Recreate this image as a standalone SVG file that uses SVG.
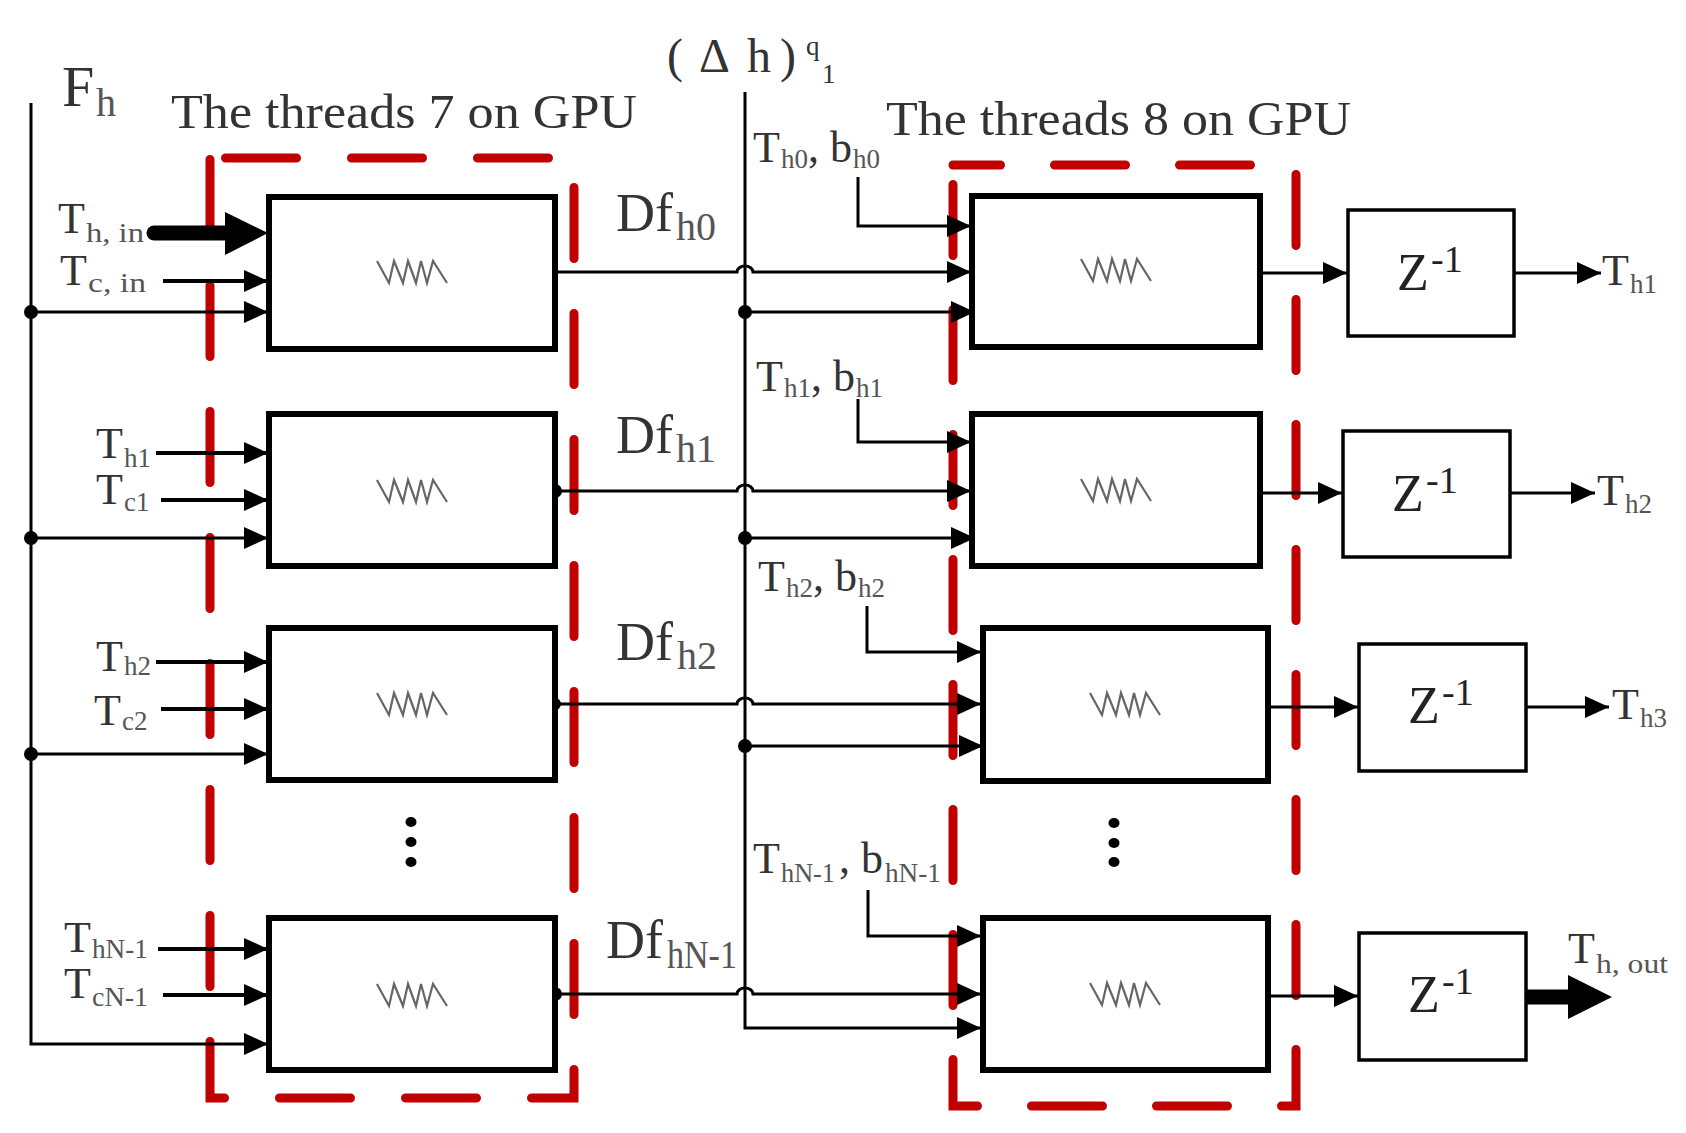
<svg xmlns="http://www.w3.org/2000/svg" xmlns:xlink="http://www.w3.org/1999/xlink" width="1686" height="1133" viewBox="0 0 1686 1133">
<style>
.t{font-family:"Liberation Serif","Times New Roman",serif;fill:#333}
.m{font-size:44px}
.s{font-size:27px;fill:#555}
.df{font-size:54px}
.ds{font-size:40px;fill:#555}
.z{font-size:52px;fill:#222}
.zs{font-size:38px;fill:#222}
.c{fill:none;stroke:#000;stroke-width:3}
.ci{fill:none;stroke:#000;stroke-width:4}
.box{fill:#fff;stroke:#000;stroke-width:6}
.zb{fill:#fff;stroke:#000;stroke-width:3.5}
.red{fill:none;stroke:#c00000;stroke-width:9;stroke-linecap:round;stroke-linejoin:miter}
.dot{fill:#000}
.zz{fill:none;stroke:#666;stroke-width:2.2;stroke-linejoin:miter}
</style>
<defs>
<marker id="ah" markerUnits="userSpaceOnUse" markerWidth="24" markerHeight="22" refX="24" refY="11" orient="auto">
<path d="M0,0 L24,11 L0,22 z" fill="#000"/>
</marker>
<polyline id="zig" class="zz" points="-35,0 -23,22 -18,0 -9,22 -4,0 4,22 9,0 15,22 21,0 35,22"/>
</defs>
<rect width="1686" height="1133" fill="#fff"/>

<!-- red dashed thread groups -->
<g id="threads7">
<path class="red" d="M210,158 H574 V1098 H210 Z" stroke-dasharray="71 55" stroke-dashoffset="110.5"/>
</g>
<g id="threads8">
<path class="red" d="M1296,165 V1106 H953 V165" stroke-dasharray="71 54" stroke-dashoffset="115.5"/>
<path class="red" d="M953,165 H1296" stroke-dasharray="71 54" stroke-dashoffset="23.5"/>
</g>

<!-- connectors -->
<g id="connectors">
<path class="c" d="M31,103 V1044 H268" marker-end="url(#ah)"/>
<path class="c" d="M31,312 H268" marker-end="url(#ah)"/>
<path class="c" d="M31,538 H268" marker-end="url(#ah)"/>
<path class="c" d="M31,754 H268" marker-end="url(#ah)"/>
<circle class="dot" cx="31" cy="312" r="7"/>
<circle class="dot" cx="31" cy="538" r="7"/>
<circle class="dot" cx="31" cy="754" r="7"/>
<path d="M154,233 H232" stroke="#000" stroke-width="15" stroke-linecap="round" fill="none"/>
<polygon points="225,212 268,233 225,255" fill="#000"/>
<path class="ci" d="M163,281 H268" marker-end="url(#ah)"/>
<path class="ci" d="M156,453 H268" marker-end="url(#ah)"/>
<path class="ci" d="M161,500 H268" marker-end="url(#ah)"/>
<path class="ci" d="M156,662 H268" marker-end="url(#ah)"/>
<path class="ci" d="M161,709 H268" marker-end="url(#ah)"/>
<path class="ci" d="M158,949 H268" marker-end="url(#ah)"/>
<path class="ci" d="M163,995 H268" marker-end="url(#ah)"/>
<path class="c" d="M745,92 V1028 H981" marker-end="url(#ah)"/>
<path class="c" d="M745,312 H975" marker-end="url(#ah)"/>
<path class="c" d="M745,538 H975" marker-end="url(#ah)"/>
<path class="c" d="M745,746 H983" marker-end="url(#ah)"/>
<circle class="dot" cx="745" cy="312" r="7"/>
<circle class="dot" cx="745" cy="538" r="7"/>
<circle class="dot" cx="745" cy="746" r="7"/>
<path class="c" d="M555,272 H737 A8,6 0 0 1 753,272 H971" marker-end="url(#ah)"/>
<path class="c" d="M555,491 H737 A8,6 0 0 1 753,491 H971" marker-end="url(#ah)"/>
<path class="c" d="M555,704 H737 A8,6 0 0 1 753,704 H981" marker-end="url(#ah)"/>
<path class="c" d="M555,994 H737 A8,6 0 0 1 753,994 H981" marker-end="url(#ah)"/>
<circle class="dot" cx="555" cy="491" r="7"/>
<circle class="dot" cx="555" cy="704" r="6"/>
<circle class="dot" cx="555" cy="994" r="7"/>
<path class="c" d="M858,177 V226 H971" marker-end="url(#ah)"/>
<path class="c" d="M858,399 V442 H971" marker-end="url(#ah)"/>
<path class="c" d="M867,606 V652 H981" marker-end="url(#ah)"/>
<path class="c" d="M868,890 V936 H981" marker-end="url(#ah)"/>
<path class="c" d="M1260,273 H1347" marker-end="url(#ah)"/>
<path class="c" d="M1260,493 H1342" marker-end="url(#ah)"/>
<path class="c" d="M1268,707 H1358" marker-end="url(#ah)"/>
<path class="c" d="M1268,996 H1358" marker-end="url(#ah)"/>
<path class="c" d="M1514,273 H1601" marker-end="url(#ah)"/>
<path class="c" d="M1510,493 H1595" marker-end="url(#ah)"/>
<path class="c" d="M1526,707 H1609" marker-end="url(#ah)"/>
<path d="M1520,997 H1575" stroke="#000" stroke-width="15" stroke-linecap="round" fill="none"/>
<polygon points="1568,975 1612,997 1568,1019" fill="#000"/>
</g>

<!-- column 1 nodes (threads 7) -->
<g id="n7-0"><rect class="box" x="269" y="197" width="286" height="152"/><use xlink:href="#zig" x="412" y="261"/></g>
<g id="n7-1"><rect class="box" x="269" y="414" width="286" height="152"/><use xlink:href="#zig" x="412" y="480"/></g>
<g id="n7-2"><rect class="box" x="269" y="628" width="286" height="152"/><use xlink:href="#zig" x="412" y="693"/></g>
<g id="n7-dots"><ellipse class="dot" cx="411" cy="822" rx="5.5" ry="5"/><ellipse class="dot" cx="411" cy="842" rx="5.5" ry="5"/><ellipse class="dot" cx="411" cy="862" rx="5.5" ry="5"/></g>
<g id="n7-N"><rect class="box" x="269" y="918" width="286" height="152"/><use xlink:href="#zig" x="412" y="984"/></g>

<!-- column 2 nodes (threads 8) -->
<g id="n8-0"><rect class="box" x="972" y="196" width="288" height="151"/><use xlink:href="#zig" x="1116" y="259"/></g>
<g id="n8-1"><rect class="box" x="972" y="414" width="288" height="152"/><use xlink:href="#zig" x="1116" y="479"/></g>
<g id="n8-2"><rect class="box" x="983" y="628" width="285" height="153"/><use xlink:href="#zig" x="1125" y="693"/></g>
<g id="n8-dots"><ellipse class="dot" cx="1114" cy="823" rx="5.5" ry="5"/><ellipse class="dot" cx="1114" cy="843" rx="5.5" ry="5"/><ellipse class="dot" cx="1114" cy="862" rx="5.5" ry="5"/></g>
<g id="n8-N"><rect class="box" x="983" y="918" width="285" height="152"/><use xlink:href="#zig" x="1125" y="983"/></g>

<!-- delay nodes -->
<g id="z1"><rect class="zb" x="1348" y="210" width="166" height="126"/><text class="t"><tspan class="z" x="1397" y="290">Z</tspan><tspan class="zs" x="1431" y="272">-1</tspan></text></g>
<g id="z2"><rect class="zb" x="1343" y="431" width="167" height="126"/><text class="t"><tspan class="z" x="1392" y="511">Z</tspan><tspan class="zs" x="1426" y="493">-1</tspan></text></g>
<g id="z3"><rect class="zb" x="1359" y="644" width="167" height="127"/><text class="t"><tspan class="z" x="1408" y="723">Z</tspan><tspan class="zs" x="1442" y="705">-1</tspan></text></g>
<g id="z4"><rect class="zb" x="1359" y="933" width="167" height="127"/><text class="t"><tspan class="z" x="1408" y="1012">Z</tspan><tspan class="zs" x="1442" y="994">-1</tspan></text></g>

<!-- labels -->
<g id="labels">
<text class="t"><tspan x="62" y="106" font-size="58">F</tspan><tspan x="96" y="116" font-size="40" fill="#555">h</tspan></text>
<text class="t" x="171" y="128" font-size="48" textLength="466" lengthAdjust="spacingAndGlyphs">The threads 7 on GPU</text>
<text class="t" x="886" y="135" font-size="48" textLength="465" lengthAdjust="spacingAndGlyphs">The threads 8 on GPU</text>
<text class="t" font-size="48"><tspan x="667 699 747 780" y="72">(Δh)</tspan><tspan x="806" y="55" font-size="27">q</tspan><tspan x="822" y="83" font-size="27">1</tspan></text>

<text class="t"><tspan class="m" x="58" y="233">T</tspan><tspan class="s" x="86" y="242" textLength="58" lengthAdjust="spacingAndGlyphs">h, in</tspan></text>
<text class="t"><tspan class="m" x="60" y="285">T</tspan><tspan class="s" x="88" y="292" textLength="58" lengthAdjust="spacingAndGlyphs">c, in</tspan></text>
<text class="t"><tspan class="m" x="96" y="458">T</tspan><tspan class="s" x="124" y="467">h1</tspan></text>
<text class="t"><tspan class="m" x="96" y="504">T</tspan><tspan class="s" x="124" y="511">c1</tspan></text>
<text class="t"><tspan class="m" x="96" y="671">T</tspan><tspan class="s" x="124" y="675">h2</tspan></text>
<text class="t"><tspan class="m" x="94" y="725">T</tspan><tspan class="s" x="122" y="730">c2</tspan></text>
<text class="t"><tspan class="m" x="64" y="952">T</tspan><tspan class="s" x="92" y="958" textLength="56" lengthAdjust="spacingAndGlyphs">hN-1</tspan></text>
<text class="t"><tspan class="m" x="64" y="998">T</tspan><tspan class="s" x="92" y="1006" textLength="56" lengthAdjust="spacingAndGlyphs">cN-1</tspan></text>

<text class="t"><tspan class="df" x="616" y="231">Df</tspan><tspan class="ds" x="676" y="240">h0</tspan></text>
<text class="t"><tspan class="df" x="616" y="453">Df</tspan><tspan class="ds" x="676" y="462">h1</tspan></text>
<text class="t"><tspan class="df" x="616" y="660">Df</tspan><tspan class="ds" x="677" y="669">h2</tspan></text>
<text class="t"><tspan class="df" x="606" y="958">Df</tspan><tspan class="ds" x="667" y="968" textLength="70" lengthAdjust="spacingAndGlyphs">hN-1</tspan></text>

<text class="t"><tspan class="m" x="753" y="162">T</tspan><tspan class="s" x="781" y="168">h0</tspan><tspan class="m" x="808" y="162">, b</tspan><tspan class="s" x="853" y="168">h0</tspan></text>
<text class="t"><tspan class="m" x="756" y="391">T</tspan><tspan class="s" x="784" y="397">h1</tspan><tspan class="m" x="811" y="391">, b</tspan><tspan class="s" x="856" y="397">h1</tspan></text>
<text class="t"><tspan class="m" x="758" y="591">T</tspan><tspan class="s" x="786" y="597">h2</tspan><tspan class="m" x="813" y="591">, b</tspan><tspan class="s" x="858" y="597">h2</tspan></text>
<text class="t"><tspan class="m" x="753" y="873">T</tspan><tspan class="s" x="781" y="882" textLength="54" lengthAdjust="spacingAndGlyphs">hN-1</tspan><tspan class="m" x="839" y="873">, b</tspan><tspan class="s" x="885" y="882" textLength="56" lengthAdjust="spacingAndGlyphs">hN-1</tspan></text>

<text class="t"><tspan class="m" x="1602" y="285">T</tspan><tspan class="s" x="1630" y="293">h1</tspan></text>
<text class="t"><tspan class="m" x="1597" y="505">T</tspan><tspan class="s" x="1625" y="513">h2</tspan></text>
<text class="t"><tspan class="m" x="1612" y="719">T</tspan><tspan class="s" x="1640" y="727">h3</tspan></text>
<text class="t"><tspan class="m" x="1568" y="963">T</tspan><tspan class="s" x="1596" y="973" textLength="72" lengthAdjust="spacingAndGlyphs">h, out</tspan></text>
</g>
</svg>
